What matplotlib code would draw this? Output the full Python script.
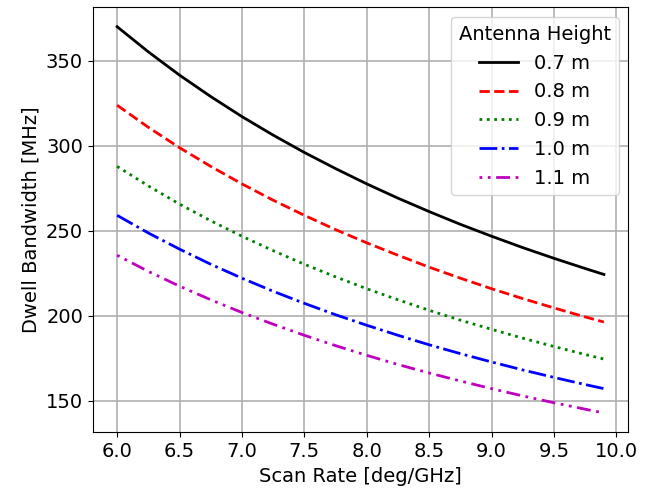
import matplotlib
matplotlib.use("Agg")
import matplotlib.pyplot as plt

# scan rate [deg/GHz]
scan_rate = [6.0, 6.25, 6.5, 6.75, 7.0, 7.25, 7.5, 7.75, 8.0, 8.25, 8.5, 8.75,
             9.0, 9.25, 9.5, 9.75, 9.9]

# dwell bandwidth [MHz], one list per antenna height
bw_07 = [370.0, 355.2, 341.5, 328.9, 317.1, 306.2, 296.0, 286.5, 277.5, 269.1,
         261.2, 253.7, 246.7, 240.0, 233.7, 227.7, 224.2]
bw_08 = [323.8, 310.8, 298.8, 287.8, 277.5, 267.9, 259.0, 250.6, 242.8, 235.5,
         228.5, 222.0, 215.8, 210.0, 204.5, 199.2, 196.2]
bw_09 = [287.8, 276.3, 265.6, 255.8, 246.7, 238.2, 230.2, 222.8, 215.8, 209.3,
         203.1, 197.3, 191.9, 186.7, 181.8, 177.1, 174.4]
bw_10 = [259.0, 248.6, 239.1, 230.2, 222.0, 214.3, 207.2, 200.5, 194.3, 188.4,
         182.8, 177.6, 172.7, 168.0, 163.6, 159.4, 157.0]
bw_11 = [235.5, 226.0, 217.3, 209.3, 201.8, 194.9, 188.4, 182.3, 176.6, 171.2,
         166.2, 161.5, 157.0, 152.7, 148.7, 144.9, 142.7]

labels = ["0.7 m", "0.8 m", "0.9 m", "1.0 m", "1.1 m"]

plt.rcParams['font.size'] = 14
plt.rcParams['lines.linewidth'] = 2

fig = plt.figure(figsize=(6.49, 4.94), dpi=100)
ax = fig.add_axes([0.143, 0.125, 0.825, 0.86])

ax.plot(scan_rate, bw_07, color='k', linestyle='-', label=labels[0])
ax.plot(scan_rate, bw_08, color='r', linestyle='--', label=labels[1])
ax.plot(scan_rate, bw_09, color='g', linestyle=':', label=labels[2])
ax.plot(scan_rate, bw_10, color='b', linestyle='-.', label=labels[3])
ax.plot(scan_rate, bw_11, color='m', linestyle=(0, (1, 2, 1, 2, 5, 2)), label=labels[4])

ax.set_xlabel("Scan Rate [deg/GHz]")
ax.set_ylabel("Dwell Bandwidth [MHz]")
ax.set_xticks([6.0, 6.5, 7.0, 7.5, 8.0, 8.5, 9.0, 9.5, 10.0])
ax.set_yticks([150, 200, 250, 300, 350])
ax.grid(True, linewidth=1.2)
ax.legend(title="Antenna Height", loc='upper right')

fig.savefig("out.png", dpi=100)
